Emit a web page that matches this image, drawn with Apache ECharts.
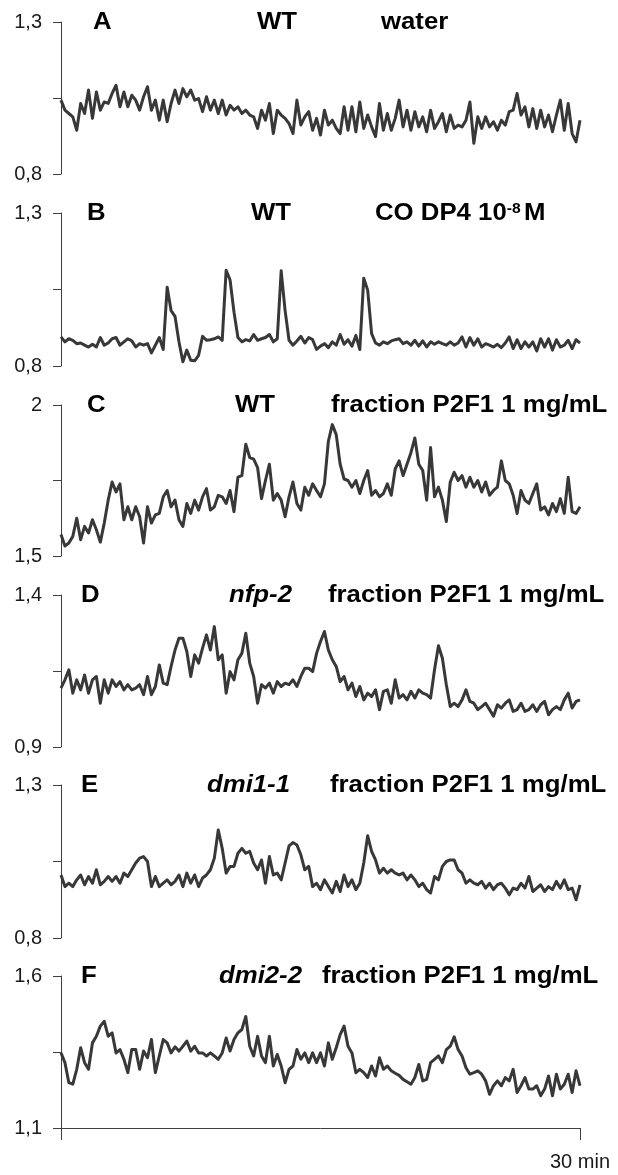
<!DOCTYPE html>
<html>
<head>
<meta charset="utf-8">
<script src="https://cdn.jsdelivr.net/npm/echarts@6/dist/echarts.min.js"></script>
<style>
  html, body { margin: 0; padding: 0; background: #fff; }
  #chart { width: 618px; height: 1175px; }
</style>
</head>
<body>
<div id="chart"></div>
<script>
const timeSpanMin = 30;

const panelA = [1.043,1.010,0.999,0.988,0.944,1.032,0.999,1.076,0.983,1.070,1.010,1.037,1.032,1.065,1.092,1.021,1.070,1.021,1.059,1.043,1.010,1.054,1.087,1.010,1.043,0.977,1.043,0.972,1.032,1.076,1.032,1.081,1.054,1.076,1.043,1.048,1.005,1.054,1.010,1.043,0.999,1.043,0.994,1.026,1.010,1.021,0.999,1.010,0.994,0.988,0.950,1.010,0.977,1.032,0.933,1.010,0.994,0.983,0.966,0.933,1.043,0.961,0.988,1.005,0.944,0.983,0.928,1.010,0.961,0.977,0.950,0.933,1.021,0.944,1.021,0.939,1.037,0.950,0.994,0.955,0.923,1.032,0.944,0.999,0.944,0.983,1.043,0.955,1.010,0.944,1.005,0.955,0.988,0.939,1.010,0.950,0.972,0.999,0.939,0.994,0.950,0.961,0.955,0.977,1.037,0.901,0.988,0.950,0.988,0.955,0.972,0.944,0.977,0.961,1.005,1.010,1.065,0.994,1.021,0.955,1.015,0.950,1.010,0.955,0.994,0.939,0.994,1.043,0.944,1.032,0.933,0.906,0.977];

const panelB = [0.895,0.879,0.889,0.884,0.873,0.875,0.868,0.862,0.871,0.862,0.893,0.868,0.875,0.889,0.893,0.868,0.879,0.889,0.882,0.862,0.873,0.868,0.873,0.843,0.868,0.893,0.854,1.057,0.981,0.962,0.879,0.814,0.852,0.819,0.817,0.835,0.897,0.884,0.886,0.889,0.895,0.884,1.113,1.081,0.976,0.893,0.879,0.886,0.882,0.903,0.884,0.889,0.893,0.903,0.879,0.889,1.111,0.981,0.884,0.868,0.882,0.897,0.875,0.893,0.886,0.854,0.865,0.873,0.860,0.879,0.868,0.903,0.871,0.886,0.865,0.900,0.854,1.087,1.048,0.906,0.875,0.868,0.879,0.873,0.882,0.886,0.889,0.873,0.879,0.868,0.884,0.865,0.882,0.862,0.879,0.871,0.879,0.873,0.868,0.879,0.868,0.875,0.895,0.862,0.893,0.868,0.889,0.862,0.873,0.868,0.862,0.871,0.860,0.875,0.895,0.857,0.886,0.857,0.879,0.862,0.879,0.849,0.889,0.862,0.889,0.852,0.886,0.862,0.868,0.884,0.857,0.886,0.875];

const panelC = [1.571,1.533,1.543,1.565,1.625,1.554,1.598,1.576,1.620,1.587,1.546,1.609,1.685,1.745,1.712,1.739,1.620,1.663,1.620,1.663,1.630,1.543,1.663,1.609,1.636,1.641,1.696,1.717,1.663,1.685,1.620,1.598,1.674,1.641,1.685,1.652,1.696,1.723,1.652,1.663,1.701,1.696,1.674,1.717,1.647,1.761,1.766,1.870,1.826,1.821,1.793,1.690,1.750,1.804,1.685,1.707,1.685,1.630,1.696,1.745,1.674,1.652,1.728,1.701,1.739,1.717,1.696,1.739,1.880,1.935,1.902,1.804,1.755,1.750,1.728,1.750,1.707,1.750,1.783,1.701,1.717,1.696,1.707,1.739,1.701,1.788,1.815,1.766,1.804,1.842,1.891,1.804,1.783,1.685,1.859,1.696,1.728,1.685,1.614,1.745,1.777,1.750,1.766,1.728,1.761,1.728,1.750,1.712,1.745,1.701,1.717,1.728,1.815,1.750,1.739,1.701,1.641,1.717,1.685,1.674,1.707,1.739,1.652,1.663,1.636,1.674,1.647,1.690,1.641,1.761,1.647,1.641,1.663];

const panelD = [1.094,1.121,1.154,1.077,1.121,1.088,1.137,1.077,1.121,1.132,1.044,1.121,1.077,1.121,1.099,1.115,1.088,1.105,1.088,1.094,1.105,1.072,1.132,1.072,1.099,1.170,1.110,1.105,1.165,1.219,1.258,1.258,1.214,1.132,1.203,1.176,1.225,1.269,1.219,1.296,1.187,1.203,1.077,1.148,1.121,1.187,1.208,1.274,1.176,1.132,1.044,1.105,1.094,1.110,1.077,1.115,1.099,1.110,1.105,1.121,1.099,1.132,1.159,1.159,1.148,1.208,1.247,1.280,1.219,1.187,1.165,1.115,1.132,1.088,1.110,1.066,1.099,1.055,1.077,1.066,1.088,1.023,1.083,1.088,1.044,1.121,1.061,1.072,1.055,1.083,1.061,1.088,1.077,1.072,1.061,1.154,1.233,1.192,1.105,1.033,1.044,1.033,1.055,1.088,1.050,1.044,1.023,1.033,1.044,1.023,1.001,1.039,1.028,1.044,1.055,1.017,1.023,1.044,1.017,1.023,1.039,1.017,1.039,1.050,1.006,1.023,1.033,1.023,1.055,1.077,1.028,1.050,1.055];

const panelE = [1.006,0.968,0.979,0.968,0.990,1.006,0.974,1.001,0.979,1.023,0.974,0.985,1.001,0.985,1.001,0.979,1.012,1.001,1.023,1.045,1.061,1.066,1.050,0.968,1.001,0.968,0.979,0.990,0.974,0.985,1.006,0.968,1.012,0.979,1.006,0.968,0.996,1.006,1.023,1.061,1.153,1.093,1.012,1.034,1.034,1.077,1.093,1.077,1.083,1.045,1.023,1.055,0.979,1.066,1.006,1.012,0.990,1.045,1.101,1.112,1.104,1.072,1.023,1.034,0.968,0.979,0.958,0.990,0.968,0.947,0.985,0.952,1.006,0.968,0.990,0.958,0.979,1.045,1.134,1.083,1.055,1.012,1.028,1.012,1.023,1.012,1.006,1.012,0.990,1.006,0.990,0.968,0.979,0.958,0.947,1.001,0.990,1.034,1.050,1.055,1.055,1.023,1.012,0.979,0.990,0.979,0.974,0.985,0.963,0.979,0.958,0.974,0.979,0.963,0.941,0.963,0.958,0.979,0.963,1.001,0.952,0.963,0.974,0.952,0.968,0.958,0.985,0.963,0.990,0.958,0.963,0.925,0.974];

const panelF = [1.347,1.315,1.249,1.244,1.293,1.364,1.315,1.293,1.380,1.402,1.435,1.451,1.402,1.413,1.347,1.358,1.326,1.282,1.358,1.358,1.293,1.353,1.331,1.391,1.282,1.337,1.391,1.380,1.347,1.367,1.353,1.369,1.386,1.353,1.369,1.347,1.347,1.337,1.347,1.337,1.326,1.347,1.396,1.353,1.391,1.413,1.424,1.467,1.369,1.337,1.402,1.337,1.315,1.402,1.304,1.342,1.304,1.249,1.293,1.304,1.358,1.326,1.347,1.315,1.347,1.315,1.347,1.304,1.380,1.326,1.364,1.407,1.435,1.369,1.347,1.282,1.293,1.282,1.266,1.304,1.271,1.331,1.293,1.304,1.288,1.280,1.273,1.260,1.252,1.244,1.266,1.309,1.255,1.260,1.315,1.326,1.337,1.315,1.358,1.369,1.400,1.358,1.337,1.298,1.277,1.282,1.288,1.277,1.255,1.211,1.239,1.255,1.239,1.266,1.255,1.293,1.217,1.239,1.266,1.228,1.228,1.239,1.206,1.228,1.271,1.206,1.277,1.228,1.244,1.277,1.217,1.288,1.239];

// axis ranges (min, max) per panel
const yMins = [0.8, 0.8, 1.5, 0.9, 0.8, 1.1];
const yMaxs = [1.3, 1.3, 2.0, 1.4, 1.3, 1.6];
const panelSeries = [panelA, panelB, panelC, panelD, panelE, panelF];

// panel titles
const letters = ['A', 'B', 'C', 'D', 'E', 'F'];
const genotypes = ['WT', 'WT', 'WT', 'nfp-2', 'dmi1-1', 'dmi2-2'];
const treatments = ['water', 'CO DP4 10{sup|-8}M', 'fraction P2F1 1 mg/mL', 'fraction P2F1 1 mg/mL', 'fraction P2F1 1 mg/mL', 'fraction P2F1 1 mg/mL'];
const xEndLabel = '30 min';

// ---- Layout ----
const gridTops = [22, 213, 405, 595, 785, 976];
const gridHeights = [152, 153, 151, 152, 153, 152];
const gridLeft = 61, gridWidth = 519;
const letterX = [93, 87, 87, 81, 81, 81];
const genoX = [257, 251, 235, 229, 207, 219];
const treatX = [381, 375, 331, 328, 330, 322];
const lineColor = '#383838';
const axisColor = '#3f3f3f';
const fontFam = '"Liberation Sans", Arial, sans-serif';

const fmt = v => String(+v.toFixed(2)).replace('.', ',');

const grids = [], xAxes = [], yAxes = [], series = [], graphics = [];
panelSeries.forEach((vals, p) => {
  grids.push({ left: gridLeft, top: gridTops[p], width: gridWidth, height: gridHeights[p] });
  const isLast = p === panelSeries.length - 1;
  xAxes.push({
    type: 'value', gridIndex: p, min: 0, max: timeSpanMin,
    show: isLast,
    splitLine: { show: false },
    axisLine: { show: isLast, onZero: false, lineStyle: { color: axisColor, width: 1 } },
    axisTick: { show: isLast, customValues: [0, timeSpanMin], length: 12, lineStyle: { color: axisColor } },
    axisLabel: {
      show: isLast, customValues: [timeSpanMin], formatter: () => xEndLabel,
      margin: 24, fontSize: 20, color: '#1a1a1a', fontFamily: fontFam
    }
  });
  const mn = yMins[p], mx = yMaxs[p], mid = +((mn + mx) / 2).toFixed(3);
  yAxes.push({
    type: 'value', gridIndex: p, min: mn, max: mx,
    splitLine: { show: false },
    axisLine: { show: true, lineStyle: { color: axisColor, width: 1 } },
    axisTick: { show: true, customValues: [mn, mid, mx], length: 8, lineStyle: { color: axisColor } },
    axisLabel: {
      customValues: [mn, mx], formatter: v => fmt(v),
      margin: 19, fontSize: 20, color: '#1a1a1a', fontFamily: fontFam
    }
  });
  const n = vals.length;
  series.push({
    type: 'line', xAxisIndex: p, yAxisIndex: p,
    data: vals.map((v, i) => [i * timeSpanMin / (n - 1), v]),
    showSymbol: false, symbol: 'none', smooth: false,
    lineStyle: { color: lineColor, width: 3, join: 'round' },
    silent: true, animation: false
  });
  const cy = gridTops[p] + 1;
  const baseStyle = { fill: '#000', fontFamily: fontFam, fontSize: 23, fontWeight: 'bold', verticalAlign: 'middle', align: 'left' };
  graphics.push({ type: 'text', x: letterX[p], y: cy, scaleX: 1.12, style: Object.assign({ text: letters[p] }, baseStyle) });
  graphics.push({ type: 'text', x: genoX[p], y: cy, scaleX: 1.12,
    style: Object.assign({ text: genotypes[p] }, baseStyle, { fontStyle: genotypes[p] === 'WT' ? 'normal' : 'italic' }) });
  graphics.push({ type: 'text', x: treatX[p], y: cy, scaleX: 1.12,
    style: Object.assign({ text: treatments[p],
      rich: { sup: { fontSize: 14, fontWeight: 'bold', fontFamily: fontFam, fill: '#000', verticalAlign: 'top', padding: [0, 3, 0, 0] } } }, baseStyle) });
});

const chart = echarts.init(document.getElementById('chart'), null, { renderer: 'canvas' });
chart.setOption({
  backgroundColor: '#ffffff',
  animation: false,
  grid: grids,
  xAxis: xAxes,
  yAxis: yAxes,
  series: series,
  graphic: graphics
});
</script>
</body>
</html>
